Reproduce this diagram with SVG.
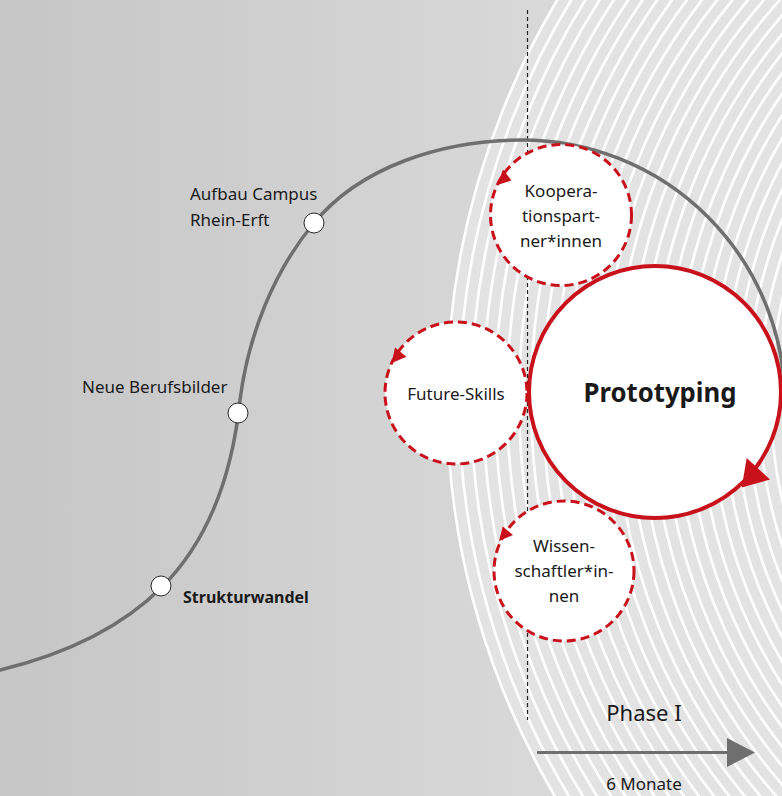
<svg xmlns="http://www.w3.org/2000/svg" width="782" height="796" viewBox="0 0 782 796">
<defs>
<linearGradient id="bg" x1="0" y1="0" x2="560" y2="0" gradientUnits="userSpaceOnUse">
<stop offset="0" stop-color="#c6c6c6"/>
<stop offset="1" stop-color="#d9d9d9"/>
</linearGradient>
</defs>
<style>
.st{fill:none;stroke:#ffffff;stroke-width:2.6}
.lbl{font-family:"Noto Sans","Liberation Sans",sans-serif;font-size:17px;fill:#1a1a1a}
.ctr{text-anchor:middle}
.dash{fill:#ffffff;stroke:#c8111b;stroke-width:3;stroke-dasharray:9 5}
.red{fill:#c8111b}
.node{fill:#ffffff;stroke:#2a2a2a;stroke-width:1}
</style>
<rect x="0" y="0" width="782" height="796" fill="url(#bg)"/>
<g id="stripes">
<circle cx="1227" cy="400" r="780" fill="#e3e3e3"/>
<circle class="st" cx="1227" cy="400" r="780"/>
<circle class="st" cx="1227" cy="400" r="768"/>
<circle class="st" cx="1227" cy="400" r="756"/>
<circle class="st" cx="1227" cy="400" r="744"/>
<circle class="st" cx="1227" cy="400" r="732"/>
<circle class="st" cx="1227" cy="400" r="720"/>
<circle class="st" cx="1227" cy="400" r="708"/>
<circle class="st" cx="1227" cy="400" r="696"/>
<circle class="st" cx="1227" cy="400" r="684"/>
<circle class="st" cx="1227" cy="400" r="672"/>
<circle class="st" cx="1227" cy="400" r="660"/>
<circle class="st" cx="1227" cy="400" r="648"/>
<circle class="st" cx="1227" cy="400" r="636"/>
<circle class="st" cx="1227" cy="400" r="624"/>
<circle class="st" cx="1227" cy="400" r="612"/>
<circle class="st" cx="1227" cy="400" r="600"/>
<circle class="st" cx="1227" cy="400" r="588"/>
<circle class="st" cx="1227" cy="400" r="576"/>
<circle class="st" cx="1227" cy="400" r="564"/>
<circle class="st" cx="1227" cy="400" r="552"/>
<circle class="st" cx="1227" cy="400" r="540"/>
<circle class="st" cx="1227" cy="400" r="528"/>
<circle class="st" cx="1227" cy="400" r="516"/>
<circle class="st" cx="1227" cy="400" r="504"/>
<circle class="st" cx="1227" cy="400" r="492"/>
<circle class="st" cx="1227" cy="400" r="480"/>
<circle class="st" cx="1227" cy="400" r="468"/>
<circle class="st" cx="1227" cy="400" r="456"/>
<circle class="st" cx="1227" cy="400" r="444"/>
</g>
<g id="connectors">
<line x1="527.5" y1="10" x2="527.5" y2="720" stroke="#222" stroke-width="1.2" stroke-dasharray="4 3"/>
<path d="M -20,674 L 0,670 C 58,656 117,632 162,587 C 212,537 233,468 240,400 C 248,337 273,272 314,223 C 360,167 442,140 522,140 A 263 263 0 0 1 785,403" fill="none" stroke="#6f6f6f" stroke-width="3.5"/>
<line x1="537" y1="752.5" x2="730" y2="752.5" stroke="#6f6f6f" stroke-width="3"/>
<polygon points="727,738 755,752.5 727,767" fill="#6f6f6f"/>
</g>
<g id="node-campus">
<circle class="node" cx="314" cy="223" r="10"/>
<text class="lbl" x="190" y="200">Aufbau Campus</text>
<text class="lbl" x="190" y="226">Rhein-Erft</text>
</g>
<g id="node-berufsbilder">
<circle class="node" cx="238" cy="413" r="10"/>
<text class="lbl" x="82" y="393">Neue Berufsbilder</text>
</g>
<g id="node-strukturwandel">
<circle class="node" cx="161" cy="586" r="10"/>
<text class="lbl" x="183" y="603" font-weight="bold" style="font-size:16px">Strukturwandel</text>
</g>
<g id="node-kooperation">
<circle class="dash" cx="561" cy="215" r="70.5"/>
<polygon class="red" points="497.3,185 503,169.5 511.5,180.5"/>
<text class="lbl ctr" x="561" y="197">Koopera-</text>
<text class="lbl ctr" x="561" y="222">tionspart-</text>
<text class="lbl ctr" x="561" y="247">ner*innen</text>
</g>
<g id="node-future">
<circle class="dash" cx="456" cy="393" r="71"/>
<polygon class="red" points="391.7,363 395,347.5 406.5,356.7"/>
<text class="lbl ctr" x="456" y="400">Future-Skills</text>
</g>
<g id="node-wissen">
<circle class="dash" cx="564" cy="571" r="70"/>
<polygon class="red" points="499,541 502.7,526.5 513,535"/>
<text class="lbl ctr" x="564" y="552">Wissen-</text>
<text class="lbl ctr" x="564" y="577">schaftler*in-</text>
<text class="lbl ctr" x="564" y="602">nen</text>
</g>
<g id="node-prototyping">
<circle cx="655" cy="392" r="126" fill="#ffffff" stroke="#c8111b" stroke-width="4"/>
<polygon class="red" points="741.7,487.5 746.7,458 770,479.5"/>
<text class="ctr" x="660" y="402" font-family="Noto Sans, Liberation Sans, sans-serif" font-size="27" font-weight="bold" fill="#1a1a1a" textLength="153" lengthAdjust="spacingAndGlyphs">Prototyping</text>
</g>
<g id="phase">
<text class="lbl ctr" x="644" y="721" style="font-size:22px">Phase I</text>
<text class="lbl ctr" x="644" y="790">6 Monate</text>
</g>
</svg>
